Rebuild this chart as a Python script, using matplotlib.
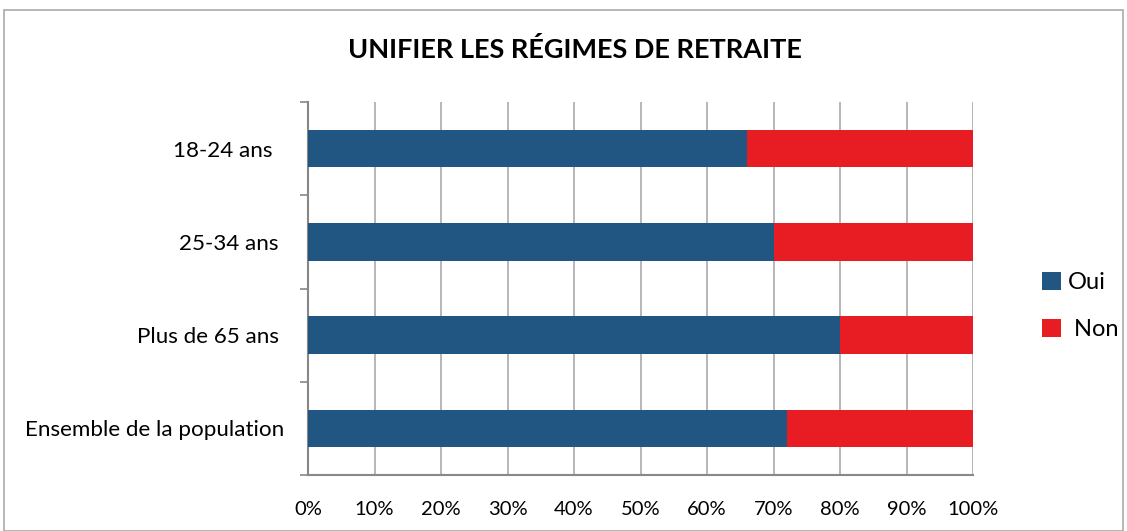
import matplotlib
matplotlib.use("Agg")
import matplotlib.pyplot as plt
from matplotlib.patches import Rectangle
from matplotlib.ticker import FuncFormatter, FixedLocator

categories = ["Ensemble de la population", "Plus de 65 ans ", "25-34 ans ", "18-24 ans  "]
oui = [72, 80, 70, 66]
non = [28, 20, 30, 34]
series_labels = ["Oui", " Non"]
colors = ["#215582", "#E81C23"]
title = "UNIFIER LES RÉGIMES DE RETRAITE"

plt.rcParams['font.family'] = ['Lato', 'DejaVu Sans']

W, H = 1127, 531
fig = plt.figure(figsize=(W/100, H/100), dpi=100)
ax = fig.add_axes([308/W, 1-475/H, (973-308)/W, (475-102)/H])

y = list(range(len(categories)))
ax.barh(y, oui, height=0.4, color=colors[0], label=series_labels[0], zorder=3)
ax.barh(y, non, left=oui, height=0.4, color=colors[1], label=series_labels[1], zorder=3)

ax.set_xlim(0, 100)
ax.set_ylim(-0.5, len(categories)-0.5)
ax.set_xticks(range(0, 101, 10))
ax.xaxis.set_major_formatter(FuncFormatter(lambda v, p: f"{int(v)}%"))
ax.set_yticks(y)
ax.set_yticklabels(categories)
ax.yaxis.set_minor_locator(FixedLocator([i - 0.5 for i in range(len(categories)+1)]))
ax.tick_params(axis='y', which='major', length=0, pad=17, labelsize=16.1)
ax.tick_params(axis='y', which='minor', length=6, color='#888888', width=1.2, direction='out')
ax.tick_params(axis='x', length=0, pad=19, labelsize=14.5)
ax.grid(axis='x', color='#aaaaaa', linewidth=1.2, zorder=0)
for s in ['top', 'right']:
    ax.spines[s].set_visible(False)
for s in ['left', 'bottom']:
    ax.spines[s].set_color('#888888')
    ax.spines[s].set_linewidth(1.5)

fig.text(575/W, 1-50/H, title, ha='center', va='center', fontsize=19.5, fontweight='bold')

leg = ax.legend(loc='center left', bbox_to_anchor=(1021/W, 1-306/H), bbox_transform=fig.transFigure,
                frameon=False, fontsize=17, handlelength=0.8, handleheight=0.8,
                handletextpad=0.3, labelspacing=1.1)

fig.patches.append(Rectangle((4/W, 0), (1123-4)/W, 1-10/H, transform=fig.transFigure,
                             fill=False, edgecolor='#aaaaaa', linewidth=1.2))

fig.savefig("out.png", dpi=100)
